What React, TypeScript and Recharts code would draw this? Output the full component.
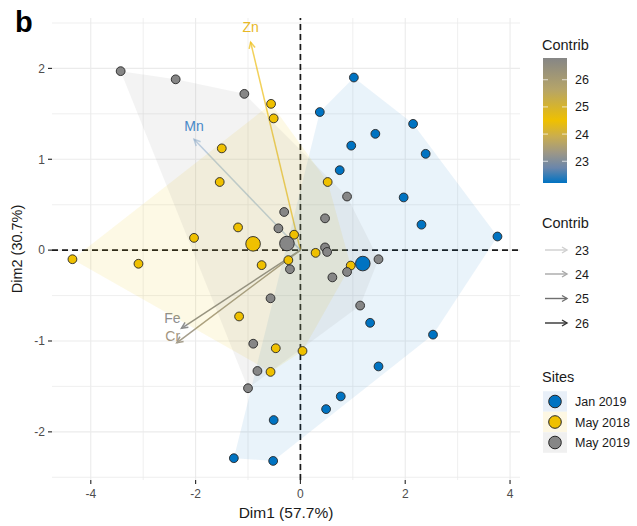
import React from 'react';
import { ScatterChart, Scatter, XAxis, YAxis, ReferenceLine } from 'recharts';

// ---------- data ----------
const siteNames = ['Jan 2019', 'May 2018', 'May 2019'];

const jan2019 = [
  { x: 1.02, y: 1.9 }, { x: 0.37, y: 1.52 }, { x: 2.15, y: 1.39 }, { x: 1.43, y: 1.28 },
  { x: 0.97, y: 1.15 }, { x: 2.39, y: 1.06 }, { x: 0.75, y: 0.88 }, { x: 1.97, y: 0.58 },
  { x: 2.31, y: 0.28 }, { x: 3.76, y: 0.15 }, { x: 1.33, y: -0.8 }, { x: 2.53, y: -0.93 },
  { x: 1.49, y: -1.28 }, { x: 0.77, y: -1.61 }, { x: 0.49, y: -1.75 }, { x: -0.51, y: -1.87 },
  { x: -1.27, y: -2.29 }, { x: -0.52, y: -2.32 },
];

const may2018 = [
  { x: -0.56, y: 1.61 }, { x: -0.51, y: 1.45 }, { x: -1.5, y: 1.12 }, { x: -1.54, y: 0.75 },
  { x: -1.19, y: 0.25 }, { x: -2.03, y: 0.135 }, { x: -0.12, y: 0.17 }, { x: 0.52, y: 0.75 },
  { x: 0.29, y: -0.03 }, { x: 0.96, y: -0.17 }, { x: -0.23, y: -0.11 }, { x: -0.74, y: -0.165 },
  { x: -1.17, y: -0.73 }, { x: -4.35, y: -0.1 }, { x: -3.09, y: -0.15 }, { x: -0.47, y: -1.08 },
  { x: -0.57, y: -1.34 }, { x: 0.04, y: -1.11 },
];

const may2019 = [
  { x: -3.43, y: 1.97 }, { x: -2.38, y: 1.88 }, { x: -1.07, y: 1.72 }, { x: -0.31, y: 0.42 },
  { x: -0.42, y: 0.24 }, { x: 0.89, y: 0.59 }, { x: 0.47, y: 0.35 }, { x: 0.47, y: 0.03 },
  { x: 0.51, y: -0.02 }, { x: 1.49, y: -0.1 }, { x: 0.89, y: -0.24 }, { x: 0.61, y: -0.3 },
  { x: -0.2, y: -0.21 }, { x: -0.57, y: -0.53 }, { x: 1.14, y: -0.61 }, { x: -0.9, y: -1.03 },
  { x: -0.82, y: -1.33 }, { x: -1.0, y: -1.52 },
];

const varNames = ['Zn', 'Mn', 'Fe', 'Cr'];
const varDim1 = [-0.95, -2.03, -2.27, -2.36];
const varDim2 = [2.29, 1.22, -0.86, -1.02];

const xTicks = [-4, -2, 0, 2, 4];
const yTicks = [-2, -1, 0, 1, 2];
const xGrid = [-4, -3, -2, -1, 0, 1, 2, 3, 4];
const yGrid = [-2.5, -2, -1.5, -1, -0.5, 0, 0.5, 1, 1.5, 2, 2.5];
const contribTicks = [23, 24, 25, 26];

// ---------- styles ----------
const FONT = '"Liberation Sans", Arial, sans-serif';
const siteColors = ['#0073C2', '#EFC000', '#868686'];
const siteKeyBg = ['#e8eff8', '#fdf7e3', '#f0f0f0'];
const hullOpacity = [0.085, 0.1, 0.1];
const varLineColors = ['rgba(236,190,20,0.7)', 'rgba(140,175,210,0.55)', '#8e8e8e', '#a59e8c'];
const varLabelColors = ['#E8B826', '#3F89CF', '#8d8d8d', '#a3967f'];
const varLabelOffsets = [[0, -10], [0, -8], [-9, -5], [-4, -2]];
const contribArrowColors = ['#cfcfcf', '#a8a8a8', '#6f6f6f', '#333333'];

// ---------- helpers ----------
type P = { x: number; y: number };
function convexHull(pts: P[]): P[] {
  const p = [...pts].sort((a, b) => a.x - b.x || a.y - b.y);
  const cross = (o: P, a: P, b: P) => (a.x - o.x) * (b.y - o.y) - (a.y - o.y) * (b.x - o.x);
  const lower: P[] = [];
  for (const q of p) {
    while (lower.length >= 2 && cross(lower[lower.length - 2], lower[lower.length - 1], q) <= 0) lower.pop();
    lower.push(q);
  }
  const upper: P[] = [];
  for (let i = p.length - 1; i >= 0; i--) {
    const q = p[i];
    while (upper.length >= 2 && cross(upper[upper.length - 2], upper[upper.length - 1], q) <= 0) upper.pop();
    upper.push(q);
  }
  upper.pop();
  lower.pop();
  return lower.concat(upper);
}
const mean = (pts: P[]) => ({
  x: pts.reduce((s, p) => s + p.x, 0) / pts.length,
  y: pts.reduce((s, p) => s + p.y, 0) / pts.length,
});

const groups = [jan2019, may2018, may2019];

const hullLine = (color: string, op: number) => (lp: any) => {
  const pts = (lp && lp.points) || [];
  if (!pts.length) return <g />;
  const d = pts.map((q: any, i: number) => `${i === 0 ? 'M' : 'L'}${q.x},${q.y}`).join(' ') + ' Z';
  return <path d={d} fill={color} fillOpacity={op} stroke="none" />;
};

const dot = (color: string, r: number) => (p: any) => (
  <circle cx={p.cx} cy={p.cy} r={r} fill={color} stroke="#262626" strokeWidth={0.9} />
);

const arrowShape = (i: number) => (p: any) => {
  const { x1, y1, x2, y2 } = p;
  const ang = Math.atan2(y2 - y1, x2 - x1);
  const L = 7;
  const a = Math.PI / 7;
  const hx1 = x2 - L * Math.cos(ang - a);
  const hy1 = y2 - L * Math.sin(ang - a);
  const hx2 = x2 - L * Math.cos(ang + a);
  const hy2 = y2 - L * Math.sin(ang + a);
  return (
    <g>
      <line x1={x1} y1={y1} x2={x2} y2={y2} stroke={varLineColors[i]} strokeWidth={1.5} />
      <polyline
        points={`${hx1},${hy1} ${x2},${y2} ${hx2},${hy2}`}
        fill="none"
        stroke={varLineColors[i]}
        strokeWidth={1.5}
      />
      <text
        x={x2 + varLabelOffsets[i][0]}
        y={y2 + varLabelOffsets[i][1]}
        textAnchor="middle"
        fontFamily={FONT}
        fontSize={14}
        fill={varLabelColors[i]}
      >
        {varNames[i]}
      </text>
    </g>
  );
};

const Legends = () => {
  const barTop = 58;
  const barBottom = 183;
  const vTop = 26.8;
  const vBottom = 22.2;
  const yOf = (v: number) => barTop + ((vTop - v) / (vTop - vBottom)) * (barBottom - barTop);
  const arrowRows = [250, 274, 298.5, 323];
  const siteRows = [401.5, 422, 442.5];
  return (
    <svg
      width={637}
      height={526}
      style={{ position: 'absolute', left: 0, top: 0, pointerEvents: 'none' }}
    >
      <defs>
        <linearGradient id="cbar" x1="0" y1="0" x2="0" y2="1">
          <stop offset="0" stopColor="#868686" />
          <stop offset="0.25" stopColor="#b5a469" />
          <stop offset="0.5" stopColor="#EFC000" />
          <stop offset="0.63" stopColor="#c9ad50" />
          <stop offset="0.76" stopColor="#9c9787" />
          <stop offset="0.88" stopColor="#6a86ab" />
          <stop offset="1" stopColor="#0073C2" />
        </linearGradient>
      </defs>
      <text x={15} y={32} fontFamily={FONT} fontWeight="bold" fontSize={29} fill="#000">b</text>
      <text x={286} y={518} textAnchor="middle" fontFamily={FONT} fontSize={15.5} fill="#1a1a1a">
        Dim1 (57.7%)
      </text>
      <text
        transform="translate(22,249) rotate(-90)"
        textAnchor="middle"
        fontFamily={FONT}
        fontSize={14.5}
        fill="#1a1a1a"
      >
        Dim2 (30.7%)
      </text>

      <text x={542} y={50} fontFamily={FONT} fontSize={14.5} fill="#1a1a1a">Contrib</text>
      <rect x={543} y={barTop} width={24} height={barBottom - barTop} fill="url(#cbar)" />
      {contribTicks.map((t) => (
        <g key={t}>
          <line x1={543} x2={548} y1={yOf(t)} y2={yOf(t)} stroke="#fff" strokeOpacity={0.7} />
          <line x1={562} x2={567} y1={yOf(t)} y2={yOf(t)} stroke="#fff" strokeOpacity={0.7} />
          <text x={575} y={yOf(t) + 4.5} fontFamily={FONT} fontSize={12.5} fill="#1a1a1a">{t}</text>
        </g>
      ))}

      <text x={542} y={228} fontFamily={FONT} fontSize={14.5} fill="#1a1a1a">Contrib</text>
      {contribTicks.map((t, i) => (
        <g key={'a' + t}>
          <line x1={545} x2={567} y1={arrowRows[i]} y2={arrowRows[i]} stroke={contribArrowColors[i]} strokeWidth={1.4} />
          <polyline
            points={`${562},${arrowRows[i] - 3} ${567},${arrowRows[i]} ${562},${arrowRows[i] + 3}`}
            fill="none"
            stroke={contribArrowColors[i]}
            strokeWidth={1.4}
          />
          <text x={575} y={arrowRows[i] + 4.5} fontFamily={FONT} fontSize={12.5} fill="#1a1a1a">{t}</text>
        </g>
      ))}

      <text x={542} y={382} fontFamily={FONT} fontSize={14.5} fill="#1a1a1a">Sites</text>
      {siteNames.map((s, i) => (
        <g key={s}>
          <rect x={543} y={siteRows[i] - 10.25} width={24} height={20.5} fill={siteKeyBg[i]} />
          <circle cx={555} cy={siteRows[i]} r={6.3} fill={siteColors[i]} stroke="#262626" strokeWidth={1} />
          <text x={575} y={siteRows[i] + 4.5} fontFamily={FONT} fontSize={12.5} fill="#1a1a1a">{s}</text>
        </g>
      ))}
    </svg>
  );
};

export default function App() {
  return (
    <div style={{ position: 'relative', width: 637, height: 526, background: '#fff' }}>
      <style>{'body{margin:0;}'}</style>
      <ScatterChart width={637} height={526} margin={{ top: 18, right: 117, bottom: 16, left: 22 }}>
        <XAxis
          type="number"
          dataKey="x"
          domain={[-4.74, 4.19]}
          ticks={xTicks}
          allowDataOverflow
          axisLine={false}
          tickLine={{ stroke: '#333', strokeWidth: 1.2 }}
          tickSize={4}
          tickMargin={5}
          height={30}
          interval={0}
          tick={{ fill: '#4d4d4d', fontSize: 12, fontFamily: FONT }}
        />
        <YAxis
          type="number"
          dataKey="y"
          domain={[-2.53, 2.555]}
          ticks={yTicks}
          allowDataOverflow
          axisLine={false}
          tickLine={{ stroke: '#333', strokeWidth: 1.2 }}
          tickSize={4}
          tickMargin={3}
          width={30}
          interval={0}
          tick={{ fill: '#4d4d4d', fontSize: 12, fontFamily: FONT }}
        />
        {xGrid.map((v) => (
          <ReferenceLine key={'gx' + v} x={v} stroke="#ebebeb" strokeWidth={v % 2 === 0 ? 1.1 : 0.8} ifOverflow="visible" />
        ))}
        {yGrid.map((v) => (
          <ReferenceLine key={'gy' + v} y={v} stroke="#ebebeb" strokeWidth={Number.isInteger(v) ? 1.1 : 0.8} ifOverflow="visible" />
        ))}
        {groups.map((g, i) => (
          <Scatter
            key={'hull' + i}
            data={convexHull(g)}
            isAnimationActive={false}
            fill={siteColors[i]}
            shape={() => <g />}
            line={hullLine(siteColors[i], hullOpacity[i])}
            lineType="joint"
          />
        ))}
        <ReferenceLine x={0} stroke="#1a1a1a" strokeDasharray="6 4" strokeWidth={1.7} ifOverflow="visible" />
        <ReferenceLine y={0} stroke="#1a1a1a" strokeDasharray="6 4" strokeWidth={1.7} ifOverflow="visible" />
        {varNames.map((n, i) => (
          <ReferenceLine
            key={'v' + n}
            segment={[{ x: 0, y: 0 }, { x: varDim1[i], y: varDim2[i] }]}
            ifOverflow="visible"
            shape={arrowShape(i)}
          />
        ))}
        {groups.map((g, i) => (
          <Scatter key={'pts' + i} data={g} isAnimationActive={false} fill={siteColors[i]} shape={dot(siteColors[i], 4.4)} />
        ))}
        {groups.map((g, i) => (
          <Scatter key={'cen' + i} data={[mean(g)]} isAnimationActive={false} fill={siteColors[i]} shape={dot(siteColors[i], 7.3)} />
        ))}
      </ScatterChart>
      <Legends />
    </div>
  );
}
